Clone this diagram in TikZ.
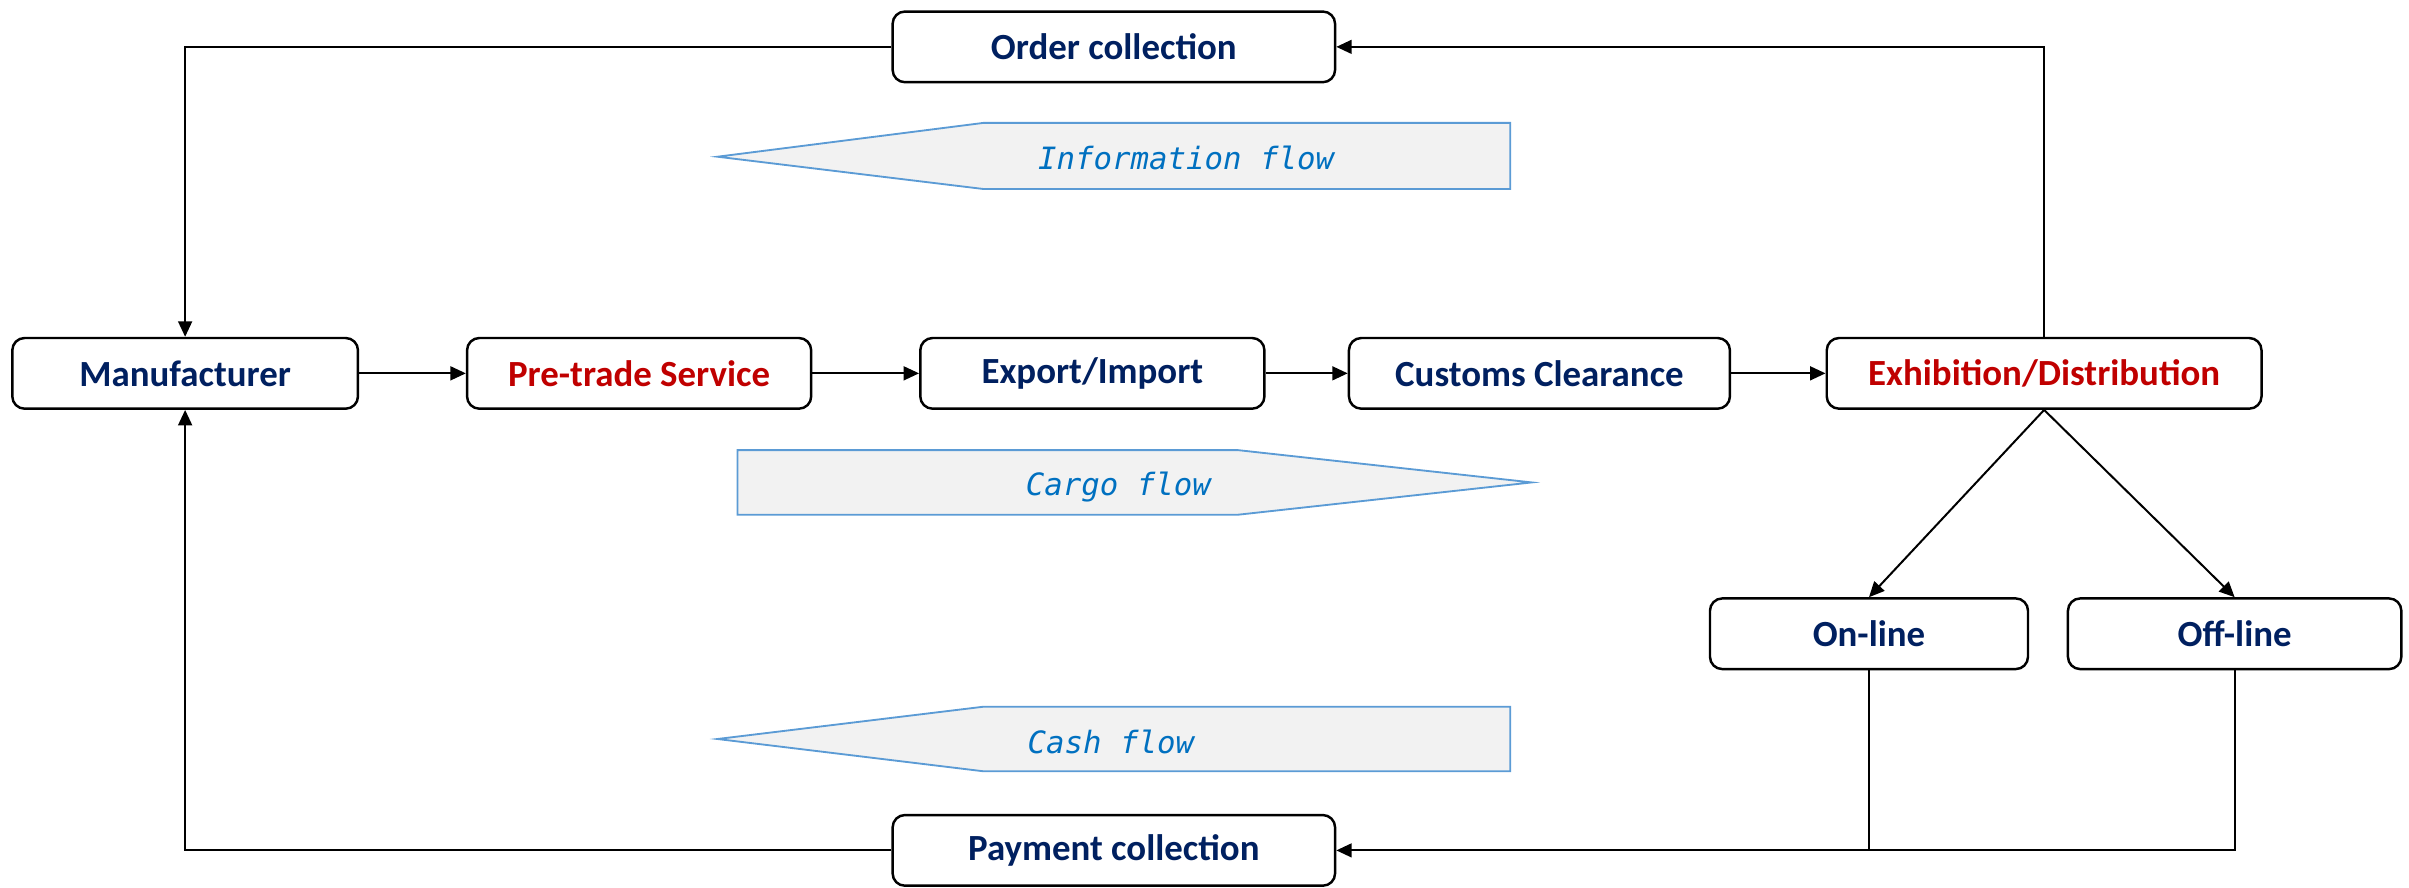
\documentclass[tikz,border=0pt]{standalone}
\usepackage{fontspec}
\setmainfont{Carlito}
\newfontfamily\flowfont{DejaVu Sans Mono}
\usetikzlibrary{arrows.meta}
\definecolor{navy}{HTML}{002060}
\definecolor{darkred}{HTML}{C00000}
\definecolor{flowblue}{HTML}{0070C0}
\definecolor{flowedge}{HTML}{5B9BD5}
\definecolor{flowfill}{HTML}{F2F2F2}
\begin{document}
\begin{tikzpicture}[x=0.5pt,y=-0.5pt,
  box/.style={draw, line width=0.8pt, rounded corners=4pt, minimum height=23pt, inner sep=0pt,
    font=\bfseries\fontsize{12}{14}\selectfont, text=navy, fill=white},
  conn/.style={line width=0.65pt, -{Triangle[length=5pt,width=4.5pt]}},
  plain/.style={line width=0.65pt},
  flowshape/.style={draw=flowedge, fill=flowfill, line width=0.6pt},
  flowtext/.style={font=\flowfont\itshape\fontsize{10}{12}\selectfont, text=flowblue, inner sep=0pt}]
\useasboundingbox (0,0) rectangle (1568,577.35);
% flow arrows
\draw[flowshape] (467,102) -- (640,80) -- (983,80) -- (983,123) -- (640,123) -- cycle;
\node[flowtext] (info) at (772,103) {Information flow};
\draw[flowshape] (480,293) -- (806,293) -- (997,314) -- (806,335) -- (480,335) -- cycle;
\node[flowtext] (cargo) at (728,317) {Cargo flow};
\draw[flowshape] (467,481) -- (640,460) -- (983,460) -- (983,502) -- (640,502) -- cycle;
\node[flowtext] (cash) at (723,483) {Cash flow};
% boxes
\node[box, minimum width=144pt] (order) at (725,30.5) {Order collection};
\node[box, minimum width=112.5pt] (manu) at (120.5,243) {Manufacturer};
\node[box, minimum width=112pt, text=darkred] (pre) at (416,243) {Pre-trade Service};
\node[box, minimum width=112pt] (exp) at (711,243) {Export/Import};
\node[box, minimum width=124pt] (cust) at (1002,243) {Customs Clearance};
\node[box, minimum width=141.5pt, text=darkred] (exh) at (1330.5,243) {Exhibition/Distribution};
\node[box, minimum width=103.5pt] (online) at (1216.5,412.5) {On-line};
\node[box, minimum width=108.5pt] (offline) at (1454.5,412.5) {Off-line};
\node[box, minimum width=144pt] (payment) at (725,553.5) {Payment collection};
% connectors
\draw[conn] (order.west) -| (manu.north);
\draw[conn] (exh.north) |- (order.east);
\draw[conn] (manu.east) -- (pre.west);
\draw[conn] (pre.east) -- (exp.west);
\draw[conn] (exp.east) -- (cust.west);
\draw[conn] (cust.east) -- (exh.west);
\draw[conn] (exh.south) -- (online.north);
\draw[conn] (exh.south) -- (offline.north);
\draw[plain] (offline.south) |- (online.south |- payment.east);
\draw[conn] (online.south) |- (payment.east);
\draw[conn] (payment.west) -| (manu.south);
\end{tikzpicture}
\end{document}
